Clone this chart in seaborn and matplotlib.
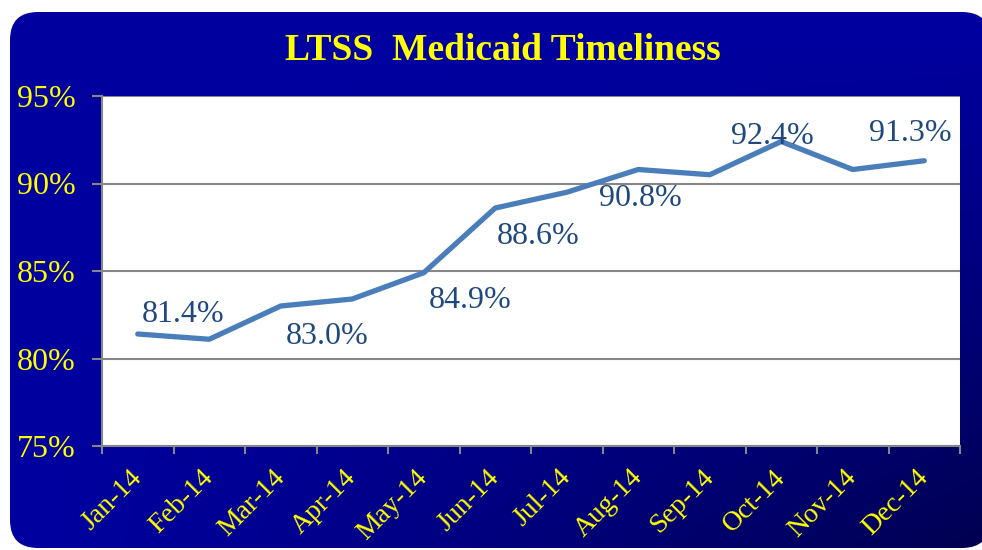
import numpy as np
import pandas as pd
import matplotlib
matplotlib.use("Agg")
import matplotlib.pyplot as plt
from matplotlib.patches import FancyBboxPatch
from matplotlib.ticker import FixedLocator, FuncFormatter
import seaborn as sns

# data
months = ["Jan-14", "Feb-14", "Mar-14", "Apr-14", "May-14", "Jun-14",
          "Jul-14", "Aug-14", "Sep-14", "Oct-14", "Nov-14", "Dec-14"]
timeliness = [81.4, 81.1, 83.0, 83.4, 84.9, 88.6,
              89.5, 90.8, 90.5, 92.4, 90.8, 91.3]
# which points carry a label, and the label offset in pixels (dx, dy)
label_offsets = {0: (45, 20), 2: (46, -31), 4: (46, -28), 5: (43, -29),
                 7: (2, -29), 9: (-9, 5), 11: (-14, 27)}

df = pd.DataFrame({"month": months, "pct": timeliness})

sns.set_style("white")
plt.rcParams["font.family"] = ["Liberation Serif", "DejaVu Serif"]

W, H = 982, 550
fig = plt.figure(figsize=(W / 100, H / 100), dpi=100)
fig.patch.set_facecolor("white")

# rounded gradient panel behind everything
bg = fig.add_axes([0, 0, 1, 1], zorder=-5)
bg.set_xlim(0, W)
bg.set_ylim(0, H)
bg.axis("off")
xx, yy = np.meshgrid(np.linspace(0, 1, 400), np.linspace(0, 1, 250))
t = (xx * yy) ** 1.2  # yy=1 is bottom (origin upper)
c0 = np.array([0, 0, 160]) / 255
c1 = np.array([0, 0, 80]) / 255
img = c0[None, None, :] * (1 - t[..., None]) + c1[None, None, :] * t[..., None]
panel = FancyBboxPatch((10, 2), W - 10 + 8, H - 12 - 2,
                       boxstyle="round,pad=0,rounding_size=28",
                       transform=bg.transData, facecolor="none", edgecolor="none")
bg.add_patch(panel)
im = bg.imshow(img, extent=[10, W, 0, H - 10], origin="upper", aspect="auto")
im.set_clip_path(panel)

# main plot
ax = fig.add_axes([102 / W, 1 - 446 / H, (960 - 102) / W, (446 - 96) / H])
ax.set_facecolor("white")
sns.lineplot(data=df, x="month", y="pct", color="#4A7EBB", linewidth=3.8,
             solid_capstyle="round", solid_joinstyle="round", ax=ax)
ax.set_xlim(-0.5, len(months) - 0.5)
ax.set_ylim(75, 95)
ax.set_xlabel("")
ax.set_ylabel("")

ax.yaxis.set_major_locator(FixedLocator([75, 80, 85, 90, 95]))
ax.yaxis.set_major_formatter(FuncFormatter(lambda v, p: f"{v:.0f}%"))
ax.grid(axis="y", color="#868686", linewidth=1.5)
ax.grid(axis="x", visible=False)

for side in ["top", "right"]:
    ax.spines[side].set_visible(False)
for side in ["left", "bottom"]:
    ax.spines[side].set_color("#868686")
    ax.spines[side].set_linewidth(1.5)

ax.tick_params(axis="y", colors="#868686", labelcolor="#FFFF00", labelsize=23,
               length=7, width=1.5, pad=12, left=True)
ax.set_xticks(range(len(months)))
ax.set_xticks(np.arange(-0.5, len(months)), minor=True)
ax.tick_params(axis="x", which="major", length=0, labelcolor="#FFFF00",
               labelsize=20, pad=20)
ax.tick_params(axis="x", which="minor", length=6, width=1.5, colors="#868686",
               bottom=True)
for lbl in ax.get_xticklabels():
    lbl.set_rotation(45)
    lbl.set_ha("right")
    lbl.set_va("center")
    lbl.set_rotation_mode("anchor")

for i, (dx, dy) in label_offsets.items():
    ax.annotate(f"{timeliness[i]:.1f}%", (i, timeliness[i]),
                xytext=(dx, dy), textcoords="offset pixels",
                ha="center", va="center", fontsize=23, color="#1F497D")

fig.text(503 / W, 1 - 50 / H, "LTSS  Medicaid Timeliness", ha="center",
         va="center", fontsize=27, fontweight="bold", color="#FFFF00")

fig.savefig("out.png", dpi=100)
